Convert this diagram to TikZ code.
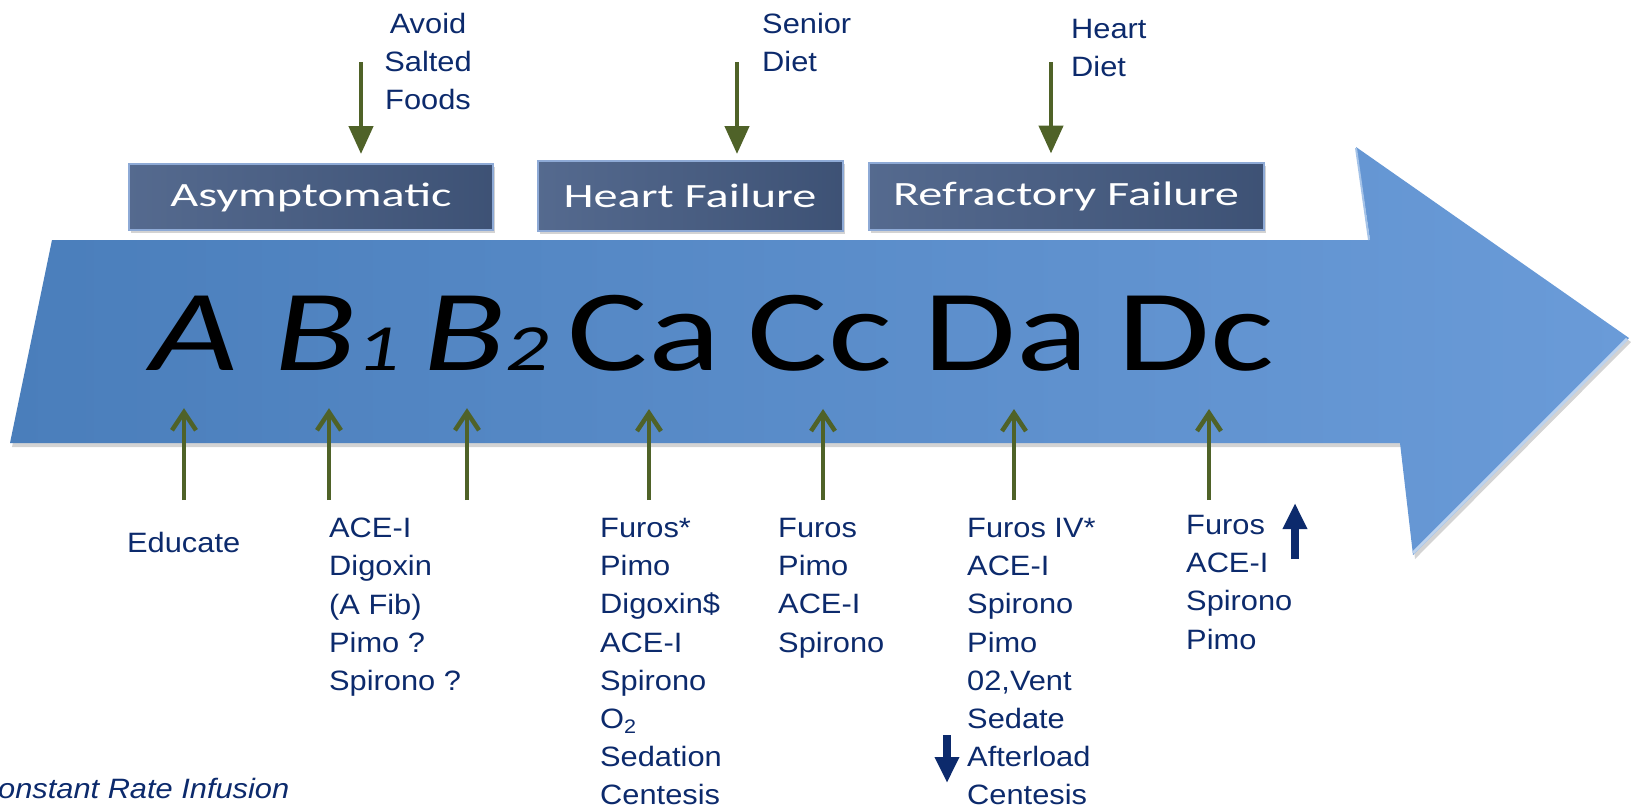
\documentclass[tikz,border=0pt]{standalone}
\usepackage{fontspec}
\setmainfont{Liberation Sans}[FakeStretch=1.1]
\newfontfamily\stagefont{Carlito}[FakeStretch=1.42]
\newfontfamily\letterfont{Carlito}[FakeStretch=1.3]
\usetikzlibrary{arrows.meta,shadows}
\definecolor{navytext}{HTML}{0C2A6C}
\definecolor{olivearrow}{HTML}{4F6228}
\definecolor{bodyleft}{HTML}{4A7EBB}
\definecolor{bodyright}{HTML}{6A9BD8}
\definecolor{boxfill}{HTML}{465D85}
\definecolor{boxedge}{HTML}{8EAAD6}
\begin{document}
\begin{tikzpicture}[x=1pt,y=-1pt,
        stagebox/.style={draw=boxedge,line width=2pt,left color=boxfill!92!white,right color=boxfill!88!black,text=white,font=\stagefont\fontsize{34}{34}\selectfont,inner sep=0pt,drop shadow={shadow xshift=2pt,shadow yshift=-3pt,opacity=0.35}},
        letter/.style={font=\letterfont\fontsize{116}{116}\selectfont,anchor=base,inner sep=0pt},
        drug/.style={text=navytext,font=\fontsize{28}{38.2}\selectfont,align=left,anchor=north west,inner sep=0pt},
        feed/.style={olivearrow,line width=4.5pt,-{Triangle[length=28pt,width=24pt]}},
        treat/.style={olivearrow,line width=4.5pt,shorten >=38pt,-{Straight Barb[length=18pt,width=24pt]}},
        trend/.style={navytext,line width=8pt,-{Triangle[length=26pt,width=23pt]}}]
    \useasboundingbox (0, 0) rectangle (1631, 809);

    \path[left color=bodyleft,right color=bodyright,drop shadow={shadow xshift=2pt,shadow yshift=-4pt,opacity=0.35}]
        (52, 240) -- (1370, 240) -- (1356, 147) -- (1629, 338) -- (1413, 555) -- (1400, 443) -- (10, 443) -- cycle;
    \draw[white!55!bodyright,line width=3pt] (1413, 553) -- (1627, 339);
    \draw[white!40!bodyright,line width=2pt] (1356, 148) -- (1369, 240);

    \node[stagebox,minimum width=364pt,minimum height=66pt] at (311, 197) (asym) {Asymptomatic};
    \node[stagebox,minimum width=305pt,minimum height=70pt] at (690, 196) (failure) {Heart Failure};
    \node[stagebox,minimum width=395pt,minimum height=67pt] at (1066, 196) (refract) {Refractory Failure};

    \node[drug,anchor=north,align=center] at (428, 13) (salt) {Avoid\\Salted\\Foods};
    \node[drug] at (762, 13) (senior) {Senior\\Diet};
    \node[drug] at (1071, 19) (heart) {Heart\\Diet};

    \coordinate (saltS) at (361, 62);
    \coordinate (seniorS) at (737, 62);
    \coordinate (heartS) at (1051, 62);
    \draw[feed,shorten >=9pt] (saltS) -- (saltS |- asym.north);
    \draw[feed,shorten >=6pt] (seniorS) -- (seniorS |- failure.north);
    \draw[feed,shorten >=8pt] (heartS) -- (heartS |- refract.north);

    \node[letter] at (194, 370) (lA) {\itshape A};
    \node[letter] at (337, 370) (lBa) {\itshape B{\fontsize{66}{66}\selectfont 1}};
    \node[letter] at (486, 370) (lBb) {\itshape B{\fontsize{66}{66}\selectfont 2}};
    \node[letter] at (644, 370) (lCa) {Ca};
    \node[letter] at (820, 370) (lCc) {Cc};
    \node[letter] at (1006, 370) (lDa) {Da};
    \node[letter] at (1196, 370) (lDc) {Dc};

    \foreach \x/\l in {184/lA,329/lBa,467/lBb,649/lCa,823/lCc,1014/lDa,1209/lDc} {
        \coordinate (t\l) at (\x, 500);
        \draw[treat] (t\l) -- (t\l |- \l.south);
    }

    \node[drug] at (127, 532) (educ) {Educate};
    \node[drug] at (329, 518) (early) {ACE-I\\Digoxin\\(A Fib)\\Pimo ?\\Spirono ?};
    \node[drug] at (600, 518) (acute) {Furos*\\Pimo\\Digoxin\$\\ACE-I\\Spirono\\O\textsubscript{2}\\Sedation\\Centesis};
    \node[drug] at (778, 518) (chronic) {Furos\\Pimo\\ACE-I\\Spirono};
    \node[drug] at (967, 518) (refr) {Furos IV*\\ACE-I\\Spirono\\Pimo\\02,Vent\\Sedate\\Afterload\\Centesis};
    \node[drug] at (1186, 515) (home) {Furos\\ACE-I\\Spirono\\Pimo};

    \coordinate (upB) at (1295, 559);
    \coordinate (upT) at (1295, 503);
    \draw[trend] (upB) -- (upT);
    \coordinate (downT) at (947, 735);
    \coordinate (downB) at (947, 783);
    \draw[trend] (downT) -- (downB);

    \node[drug,anchor=base west,font=\itshape\fontsize{28}{34}\selectfont] at (-2, 798) (cri) {onstant Rate Infusion};
\end{tikzpicture}
\end{document}
